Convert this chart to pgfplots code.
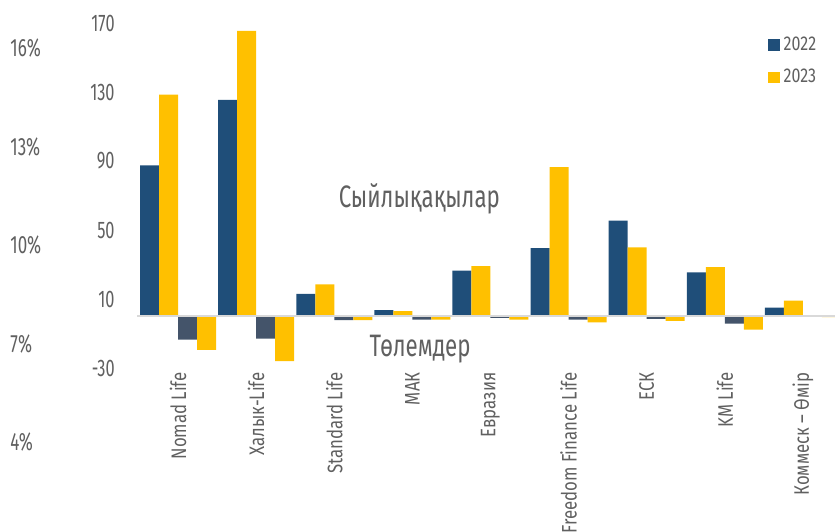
\documentclass[border=0pt]{standalone}
\usepackage{fontspec}
\setmainfont{Fira Sans}[FakeStretch=0.8]
\newfontfamily\tickfont{Fira Sans}[FakeStretch=0.68]
\newfontfamily\notefont{Fira Sans}[FakeStretch=0.72]
\usepackage{pgfplots}
\pgfplotsset{compat=1.18}
\definecolor{c22}{RGB}{31,78,121}
\definecolor{c22p}{RGB}{68,84,106}
\definecolor{c23}{RGB}{255,192,0}
\definecolor{textgray}{RGB}{96,96,96}
\definecolor{zeroline}{RGB}{217,217,217}

% premiums (positive) and payments (negative)
\pgfplotstableread{
x p22 p23 n22 n23
0 87.5 128.5 -13.5 -19.5
1 125.5 165.5 -13 -26
2 13 18.5 -2.2 -2.2
3 3.5 3 -2 -2
4 26.5 29 -1 -2
5 39.5 86.5 -2 -3.5
6 55.5 40 -1.5 -2.7
7 25.5 28.5 -4.3 -7.7
8 5 9 0 -0.5
}\data

\begin{document}
\begin{tikzpicture}
\useasboundingbox (0,0) rectangle (417.5pt,-265.5pt);

% stray percent axis on the left
\begin{axis}[
  at={(5pt,-221pt)}, anchor=south west,
  scale only axis, width=5pt, height=197pt,
  xmin=0, xmax=1, ymin=4, ymax=16,
  ytick={4,7,10,13,16}, xtick=\empty,
  axis line style={draw=none}, major tick length=0pt,
  yticklabel={\pgfmathprintnumber{\tick}\%},
  yticklabel style={anchor=west, inner sep=0pt, font=\tickfont\fontsize{12.5}{14}\selectfont, text=textgray},
  /pgf/number format/assume math mode=true
]
\addplot[draw=none] coordinates {(0,4)};
\end{axis}

\begin{axis}[
  at={(68.5pt,-184pt)}, anchor=south west,
  scale only axis, width=349pt, height=172.5pt,
  xmin=-0.525, xmax=8.41, ymin=-30, ymax=170,
  ytick={-30,10,50,90,130,170},
  xtick={0,...,8},
  xticklabels={Nomad Life, Халык-Life, Standard Life, МАК, Евразия, Freedom Finance Life, ЕСК, KM Life, Коммеск – Өмір},
  xticklabel style={rotate=90, anchor=east, inner xsep=2pt, inner ysep=0pt, font=\fontsize{10.5}{12}\selectfont, text=textgray},
  yticklabel style={anchor=east, inner sep=0pt, xshift=-11pt, font=\tickfont\fontsize{12}{14}\selectfont, text=textgray},
  axis line style={draw=none}, major tick length=0pt,
  /pgf/number format/assume math mode=true,
  legend style={at={(0.895,0.985)}, anchor=north west, draw=none, fill=none,
    font=\fontsize{10}{11}\selectfont, text=textgray, row sep=4pt},
  legend cell align=left,
  legend image code/.code={\fill[#1] (0pt,-2.9pt) rectangle (5.8pt,2.9pt);},
]
\addplot[ybar, bar width=9.5pt, bar shift=-14.25pt, fill=c22, draw=none] table[x=x, y=p22] {\data};
\addlegendentry{2022}
\addplot[ybar, bar width=9.5pt, bar shift=-4.75pt, fill=c23, draw=none] table[x=x, y=p23] {\data};
\addlegendentry{2023}
\addplot[ybar, bar width=9.5pt, bar shift=4.75pt, fill=c22p, draw=none, forget plot] table[x=x, y=n22] {\data};
\addplot[ybar, bar width=9.5pt, bar shift=14.25pt, fill=c23, draw=none, forget plot] table[x=x, y=n23] {\data};
\draw[zeroline, line width=1.2pt] (axis cs:-0.525,0) -- (axis cs:8.41,0);
\node[text=textgray, font=\notefont\fontsize{15.5}{17}\selectfont] at (axis cs:3.09,67.8) {Сыйлықақылар};
\node[text=textgray, font=\notefont\fontsize{15.5}{17}\selectfont] at (axis cs:3.10,-19.1) {Төлемдер};
\end{axis}
\end{tikzpicture}
\end{document}
